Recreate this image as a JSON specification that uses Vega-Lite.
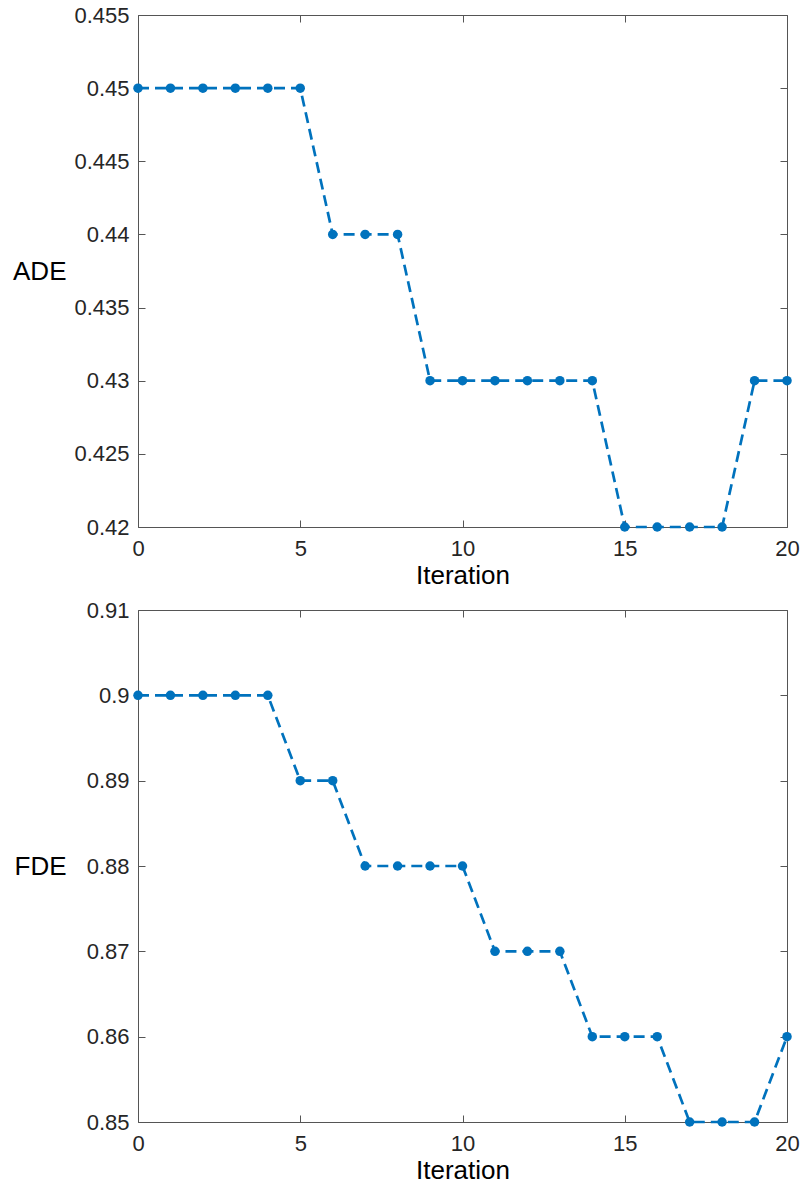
{
  "$schema": "https://vega.github.io/schema/vega-lite/v6.json",
  "autosize": {"type": "pad"},
  "padding": {"left": 12, "top": 4, "right": 0, "bottom": 0},
  "background": "white",
  "bounds": "flush",
  "spacing": 83,
  "datasets": {
    "ade": [
      {"Iteration": 0, "v": 0.45}, {"Iteration": 1, "v": 0.45}, {"Iteration": 2, "v": 0.45},
      {"Iteration": 3, "v": 0.45}, {"Iteration": 4, "v": 0.45}, {"Iteration": 5, "v": 0.45},
      {"Iteration": 6, "v": 0.44}, {"Iteration": 7, "v": 0.44}, {"Iteration": 8, "v": 0.44},
      {"Iteration": 9, "v": 0.43}, {"Iteration": 10, "v": 0.43}, {"Iteration": 11, "v": 0.43},
      {"Iteration": 12, "v": 0.43}, {"Iteration": 13, "v": 0.43}, {"Iteration": 14, "v": 0.43},
      {"Iteration": 15, "v": 0.42}, {"Iteration": 16, "v": 0.42}, {"Iteration": 17, "v": 0.42},
      {"Iteration": 18, "v": 0.42}, {"Iteration": 19, "v": 0.43}, {"Iteration": 20, "v": 0.43}
    ],
    "fde": [
      {"Iteration": 0, "v": 0.9}, {"Iteration": 1, "v": 0.9}, {"Iteration": 2, "v": 0.9},
      {"Iteration": 3, "v": 0.9}, {"Iteration": 4, "v": 0.9}, {"Iteration": 5, "v": 0.89},
      {"Iteration": 6, "v": 0.89}, {"Iteration": 7, "v": 0.88}, {"Iteration": 8, "v": 0.88},
      {"Iteration": 9, "v": 0.88}, {"Iteration": 10, "v": 0.88}, {"Iteration": 11, "v": 0.87},
      {"Iteration": 12, "v": 0.87}, {"Iteration": 13, "v": 0.87}, {"Iteration": 14, "v": 0.86},
      {"Iteration": 15, "v": 0.86}, {"Iteration": 16, "v": 0.86}, {"Iteration": 17, "v": 0.85},
      {"Iteration": 18, "v": 0.85}, {"Iteration": 19, "v": 0.85}, {"Iteration": 20, "v": 0.86}
    ]
  },
  "config": {
    "font": "Liberation Sans",
    "view": {"stroke": null},
    "axis": {
      "grid": false,
      "domainColor": "#555555",
      "tickColor": "#555555",
      "domainWidth": 1,
      "tickWidth": 1,
      "tickSize": -7,
      "labelFont": "Liberation Sans",
      "labelFontSize": 22,
      "labelColor": "#262626",
      "titleFont": "Liberation Sans",
      "titleFontSize": 26,
      "titleFontWeight": "normal",
      "titleColor": "#000000"
    }
  },
  "vconcat": [
    {
      "width": 649,
      "height": 512,
      "data": {"name": "ade"},
      "resolve": {"axis": {"x": "independent", "y": "independent"}},
      "layer": [
        {
          "mark": {"type": "line", "color": "#0072BD", "strokeWidth": 2.7, "strokeDash": [11, 6], "clip": false},
          "encoding": {
            "x": {"field": "Iteration", "type": "quantitative",
              "scale": {"domain": [0, 20], "nice": false, "zero": false},
              "axis": {"values": [0, 5, 10, 15, 20], "title": "Iteration", "labelPadding": 18, "titlePadding": 3, "labelFlush": false}},
            "y": {"field": "v", "type": "quantitative",
              "scale": {"domain": [0.42, 0.455], "nice": false, "zero": false},
              "axis": {"values": [0.42, 0.425, 0.43, 0.435, 0.44, 0.445, 0.45, 0.455], "format": "~f", "title": "ADE",
                "labelPadding": 16, "titleAngle": 0, "titleAlign": "right", "titleBaseline": "middle", "titleX": -72, "titleY": 256, "labelFlush": false}}
          }
        },
        {
          "mark": {"type": "point", "filled": true, "shape": "circle", "size": 90, "color": "#0072BD", "opacity": 1, "clip": false},
          "encoding": {
            "x": {"field": "Iteration", "type": "quantitative",
              "axis": {"orient": "top", "values": [0, 5, 10, 15, 20], "labels": false, "title": null}},
            "y": {"field": "v", "type": "quantitative",
              "axis": {"orient": "right", "values": [0.42, 0.425, 0.43, 0.435, 0.44, 0.445, 0.45, 0.455], "labels": false, "title": null}}
          }
        }
      ]
    },
    {
      "width": 649,
      "height": 512,
      "data": {"name": "fde"},
      "resolve": {"axis": {"x": "independent", "y": "independent"}},
      "layer": [
        {
          "mark": {"type": "line", "color": "#0072BD", "strokeWidth": 2.7, "strokeDash": [11, 6], "clip": false},
          "encoding": {
            "x": {"field": "Iteration", "type": "quantitative",
              "scale": {"domain": [0, 20], "nice": false, "zero": false},
              "axis": {"values": [0, 5, 10, 15, 20], "title": "Iteration", "labelPadding": 18, "titlePadding": 3, "labelFlush": false}},
            "y": {"field": "v", "type": "quantitative",
              "scale": {"domain": [0.85, 0.91], "nice": false, "zero": false},
              "axis": {"values": [0.85, 0.86, 0.87, 0.88, 0.89, 0.9, 0.91], "format": "~f", "title": "FDE",
                "labelPadding": 16, "titleAngle": 0, "titleAlign": "right", "titleBaseline": "middle", "titleX": -72, "titleY": 256, "labelFlush": false}}
          }
        },
        {
          "mark": {"type": "point", "filled": true, "shape": "circle", "size": 90, "color": "#0072BD", "opacity": 1, "clip": false},
          "encoding": {
            "x": {"field": "Iteration", "type": "quantitative",
              "axis": {"orient": "top", "values": [0, 5, 10, 15, 20], "labels": false, "title": null}},
            "y": {"field": "v", "type": "quantitative",
              "axis": {"orient": "right", "values": [0.85, 0.86, 0.87, 0.88, 0.89, 0.9, 0.91], "labels": false, "title": null}}
          }
        }
      ]
    }
  ]
}
